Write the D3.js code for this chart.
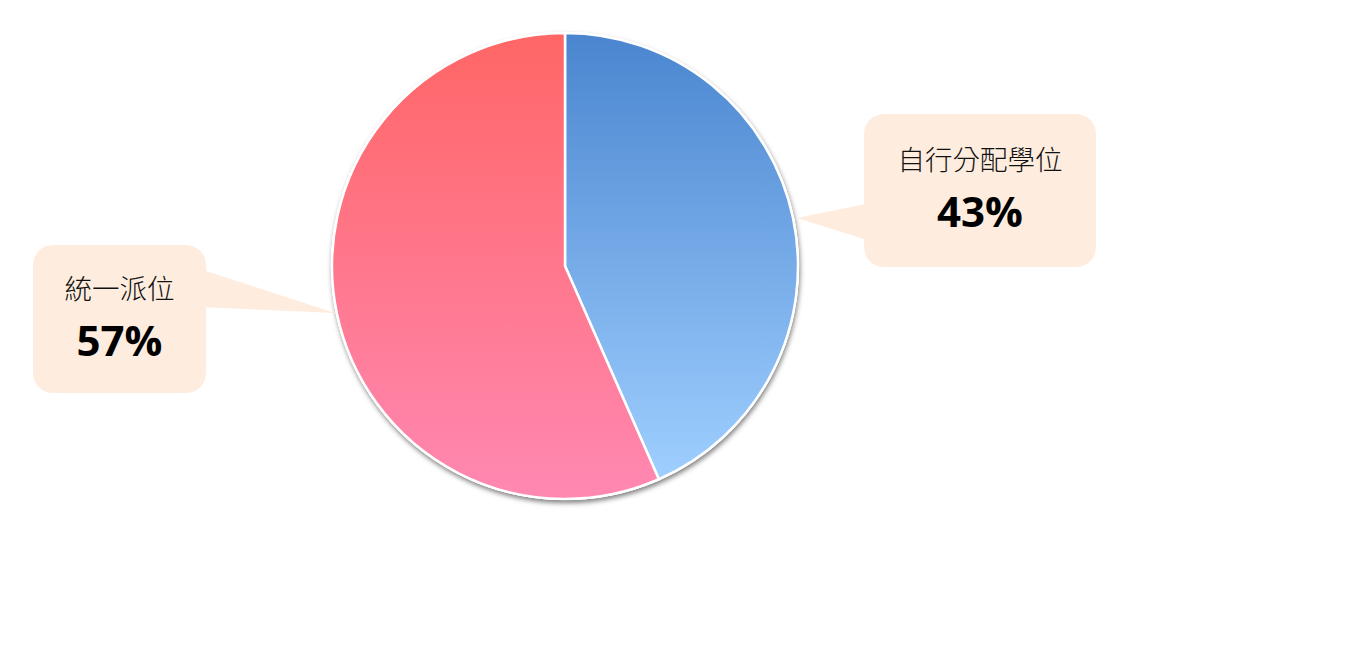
<!DOCTYPE html>
<html><head><meta charset="utf-8">
<script src="https://cdn.jsdelivr.net/npm/d3@7"></script>
<style>body{margin:0;background:#fff;}svg{display:block;}</style>
</head><body>
<svg id="c" width="1366" height="650"></svg>
<script>
const categories = ["自行分配學位", "統一派位"];
const values = [43.4, 56.6];
const percentLabels = ["43%", "57%"];
const gradTop = ["#4a85cf", "#ff6666"];
const gradBottom = ["#9fcfff", "#ff88b2"];

const svg = d3.select("#c");
const cx = 565, cy = 266, r = 233;
const defs = svg.append("defs");
const f = defs.append("filter").attr("id","sh").attr("x","-10%").attr("y","-10%").attr("width","130%").attr("height","130%");
f.append("feDropShadow").attr("dx",1).attr("dy",3).attr("stdDeviation",2.5).attr("flood-color","#000").attr("flood-opacity",0.5);

const pie = d3.pie().sort(null).value(d=>d)(values);
const arc = d3.arc().innerRadius(0).outerRadius(r);

pie.forEach((p,i)=>{
  const g = defs.append("linearGradient").attr("id","g"+i).attr("gradientUnits","objectBoundingBox").attr("x1",0).attr("y1",0).attr("x2",0).attr("y2",1);
  g.append("stop").attr("offset","0%").attr("stop-color",gradTop[i]);
  g.append("stop").attr("offset","100%").attr("stop-color",gradBottom[i]);
});

const pg = svg.append("g").attr("transform",`translate(${cx},${cy})`);
pg.append("circle").attr("r",r+1).attr("fill","#fff").attr("filter","url(#sh)");
pg.selectAll("path.s").data(pie).join("path").attr("class","s")
  .attr("d",arc).attr("fill",(d,i)=>`url(#g${i})`).attr("stroke","#fff").attr("stroke-width",2.5).attr("stroke-linejoin","round");

// callouts
const boxes = [
  {x:864, y:114, w:232, h:153, tip:[797,218], base:[[870,203],[870,241]], ty:56, py:113},
  {x:33, y:245, w:173, h:148, tip:[335,313], base:[[200,269],[200,307]], ty:54, py:111}
];
const fill = "#feeddf";
boxes.forEach((b,i)=>{
  svg.append("path").attr("d",`M${b.base[0][0]},${b.base[0][1]}L${b.tip[0]},${b.tip[1]}L${b.base[1][0]},${b.base[1][1]}Z`).attr("fill",fill);
  svg.append("rect").attr("x",b.x).attr("y",b.y).attr("width",b.w).attr("height",b.h).attr("rx",20).attr("fill",fill);
  const mx = b.x + b.w/2;
  svg.append("text").attr("x",mx).attr("y",b.y+b.ty).attr("text-anchor","middle")
    .attr("font-family","'Noto Sans CJK TC'").attr("font-size",27.5).attr("font-weight",300).attr("fill","#111")
    .text(categories[i]);
  svg.append("text").attr("x",mx).attr("y",b.y+b.py).attr("text-anchor","middle")
    .attr("font-family","'Open Sans'").attr("font-size",42).attr("font-weight",700).attr("fill","#000")
    .text(percentLabels[i]);
});
</script>
</body></html>
